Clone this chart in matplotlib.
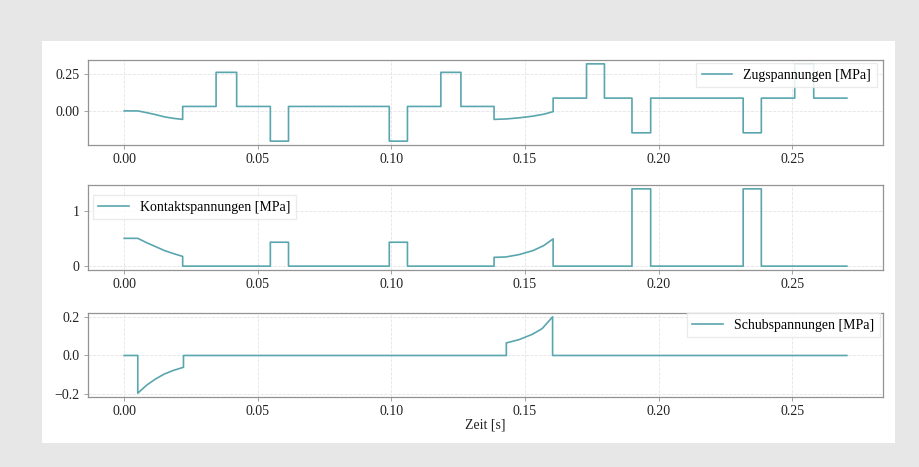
import matplotlib
matplotlib.use("Agg")
import matplotlib.pyplot as plt
from matplotlib.patches import Rectangle
from matplotlib.ticker import FuncFormatter

plt.rcParams['font.family'] = ['Liberation Serif', 'DejaVu Serif']
plt.rcParams['font.size'] = 10

# time [s] and value [MPa], jumps are repeated times
t_zug = [0, 0.0051, 0.0085, 0.0118, 0.0151, 0.0185, 0.0219, 0.0219, 0.0344, 0.0344,
         0.0421, 0.0421, 0.0547, 0.0547, 0.0615, 0.0615, 0.0992, 0.0992, 0.106, 0.106,
         0.1185, 0.1185, 0.126, 0.126, 0.1384, 0.1384, 0.143, 0.148, 0.153, 0.157,
         0.1605, 0.1605, 0.173, 0.173, 0.1797, 0.1797, 0.190, 0.190, 0.197, 0.197,
         0.2316, 0.2316, 0.2384, 0.2384, 0.2509, 0.2509, 0.258, 0.258, 0.2704]
zug = [0, 0, -0.012, -0.025, -0.040, -0.050, -0.057, 0.030, 0.030, 0.259,
       0.259, 0.030, 0.030, -0.203, -0.203, 0.030, 0.030, -0.203, -0.203, 0.030,
       0.030, 0.259, 0.259, 0.030, 0.030, -0.057, -0.054, -0.046, -0.035, -0.022,
       -0.005, 0.086, 0.086, 0.316, 0.316, 0.086, 0.086, -0.147, -0.147, 0.086,
       0.086, -0.147, -0.147, 0.086, 0.086, 0.316, 0.316, 0.086, 0.086]

t_kontakt = [0, 0.0051, 0.0085, 0.0118, 0.0151, 0.0185, 0.0219, 0.0219, 0.0547, 0.0547,
             0.0615, 0.0615, 0.0992, 0.0992, 0.106, 0.106, 0.1384, 0.1384, 0.1428, 0.148,
             0.153, 0.157, 0.1605, 0.1605, 0.190, 0.190, 0.197, 0.197, 0.2316, 0.2316,
             0.2384, 0.2384, 0.2704]
kontakt = [0.50, 0.50, 0.42, 0.35, 0.28, 0.225, 0.175, 0, 0, 0.43,
           0.43, 0, 0, 0.43, 0.43, 0, 0, 0.158, 0.165, 0.21,
           0.28, 0.37, 0.49, 0, 0, 1.39, 1.39, 0, 0, 1.39,
           1.39, 0, 0]

t_schub = [0, 0.0051, 0.0051, 0.0085, 0.0118, 0.0151, 0.0185, 0.0222, 0.0222, 0.143,
           0.143, 0.1477, 0.1527, 0.1564, 0.1603, 0.1603, 0.2704]
schub = [0, 0, -0.198, -0.155, -0.123, -0.097, -0.078, -0.062, 0, 0,
         0.066, 0.083, 0.111, 0.141, 0.203, 0, 0]

line_color = '#5aa6ae'
W, H = 919, 467


def fmt(digits):
    return FuncFormatter(lambda v, p: f'{v:.{digits}f}'.replace('-', '\u2212'))


fig = plt.figure(figsize=(W / 100, H / 100), dpi=100, facecolor='#e7e7e8')
panel = Rectangle((42 / W, 1 - 443 / H), (895 - 42) / W, (443 - 41) / H,
                  transform=fig.transFigure, facecolor='white', edgecolor='none',
                  zorder=-10)
fig.add_artist(panel)

left = 88 / W
width = (883 - 88) / W
ax1 = fig.add_axes([left, 1 - 145 / H, width, 85 / H])
ax2 = fig.add_axes([left, 1 - 270 / H, width, 85 / H])
ax3 = fig.add_axes([left, 1 - 397 / H, width, 84 / H])

ax1.plot(t_zug, zug, color=line_color, lw=1.2, label='Zugspannungen [MPa]')
ax2.plot(t_kontakt, kontakt, color=line_color, lw=1.2, label='Kontaktspannungen [MPa]')
ax3.plot(t_schub, schub, color=line_color, lw=1.2, label='Schubspannungen [MPa]')

ax1.set_yticks([0, 0.25])
ax1.yaxis.set_major_formatter(fmt(2))
ax2.set_yticks([0, 1])
ax3.set_yticks([-0.2, 0, 0.2])
ax3.yaxis.set_major_formatter(fmt(1))

for ax in (ax1, ax2, ax3):
    ax.set_facecolor('white')
    ax.set_xticks([0, 0.05, 0.10, 0.15, 0.20, 0.25])
    ax.xaxis.set_major_formatter(fmt(2))
    ax.grid(True, color='#e4e4e4', lw=0.6, ls='--')
    ax.set_axisbelow(True)
    for s in ax.spines.values():
        s.set_color('#939393')
        s.set_linewidth(0.9)
    ax.tick_params(length=3, width=0.6, color='#939393', labelcolor='#222222', pad=3)

leg_kw = dict(loc='center left', frameon=True, edgecolor='#e8e8e8', framealpha=0.85,
              fancybox=False, handlelength=2.2, borderaxespad=0)
ax1.legend(bbox_to_anchor=(0.765, 0.82), **leg_kw)
ax2.legend(bbox_to_anchor=(0.006, 0.74), **leg_kw)
ax3.legend(bbox_to_anchor=(0.753, 0.857), **leg_kw)

ax3.set_xlabel('Zeit [s]', labelpad=0, color='#222222')

fig.savefig('out.png', dpi=100, facecolor=fig.get_facecolor())
